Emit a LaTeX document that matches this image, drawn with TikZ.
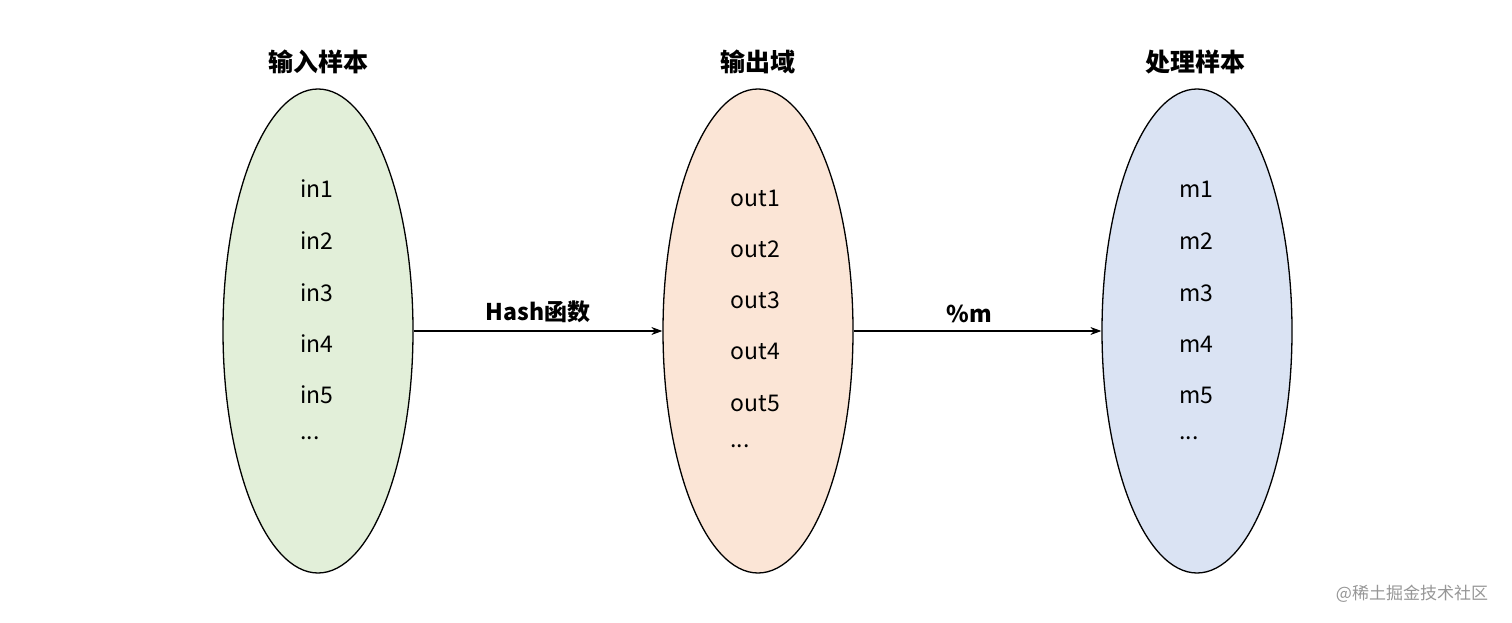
\documentclass[tikz,border=0pt]{standalone}
\usepackage{fontspec}
\setmainfont{Noto Sans CJK SC}
\usetikzlibrary{shapes.geometric,arrows.meta}
\newcommand{\mydots}{...}
\begin{document}
\begin{tikzpicture}[x=1pt,y=-1pt,
  ell/.style={ellipse,draw=black,line width=1.3pt,minimum width=190pt,minimum height=484pt,inner sep=0pt},
  ttl/.style={font=\fontsize{25}{25}\selectfont\bfseries},
  itm/.style={font=\fontsize{23}{23}\selectfont,anchor=west},
  lbl/.style={font=\fontsize{23}{23}\selectfont\bfseries},
  arr/.style={-{Stealth[length=11pt,width=8pt]},line width=1.1pt}]
\useasboundingbox (0,0) rectangle (1512,623);
\node[ell,fill={rgb,255:red,226;green,239;blue,217}] (A) at (318,331) {};
\node[ell,fill={rgb,255:red,251;green,229;blue,214}] (B) at (758,331) {};
\node[ell,fill={rgb,255:red,218;green,227;blue,243}] (C) at (1197,331) {};
\node[ttl] (tA) at (318,62) {输入样本};
\node[ttl] (tB) at (758,62) {输出域};
\node[ttl] (tC) at (1195,62) {处理样本};
\foreach \t/\y [count=\i] in {in1/189,in2/241,in3/293,in4/344,in5/395,\mydots/438}
  \node[itm] (a\i) at (297,\y) {\t};
\foreach \t/\y [count=\i] in {out1/198,out2/249,out3/300,out4/351,out5/403,\mydots/446}
  \node[itm] (b\i) at (727,\y) {\t};
\foreach \t/\y [count=\i] in {m1/189,m2/241,m3/293,m4/344,m5/395,\mydots/438}
  \node[itm] (c\i) at (1176,\y) {\t};
\draw[arr] (A.east) -- (B.west) node[lbl,midway,above=4pt] (h) {Hash函数};
\draw[arr] (B.east) -- (C.west) node[lbl,midway,above=4pt,xshift=-8pt] (p) {\%m};
\node[font=\fontsize{17}{17}\selectfont,text={rgb,255:red,150;green,150;blue,150}] (w) at (1412,594) {@稀土掘金技术社区};
\end{tikzpicture}
\end{document}
